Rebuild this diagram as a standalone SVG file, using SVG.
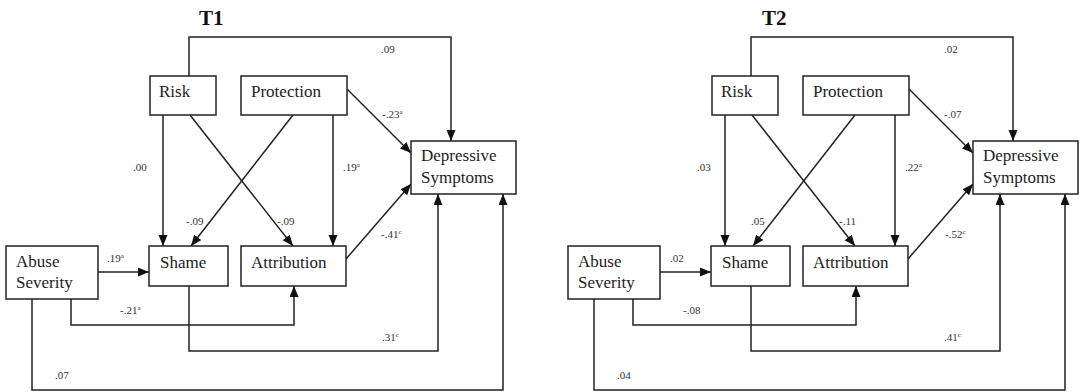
<svg xmlns="http://www.w3.org/2000/svg" width="1080" height="392" viewBox="0 0 1080 392">
<defs>
<style>
rect { fill: #fff; stroke: #222; stroke-width: 1.5; }
.node text { font-family: "Liberation Serif", "Times New Roman", serif; font-size: 17px; fill: #222; }
.title { font-family: "Liberation Serif", "Times New Roman", serif; font-size: 21px; font-weight: bold; fill: #111; }
.conn path { fill: none; stroke: #222; stroke-width: 1.5; marker-end: url(#arr); }
.lbl { font-family: "Liberation Serif", "Times New Roman", serif; font-size: 11px; fill: #333; }
.sup { font-size: 7px; }
</style>
<marker id="arr" markerUnits="userSpaceOnUse" markerWidth="12" markerHeight="10" refX="11" refY="4.5" orient="auto">
<path d="M0,0 L11,4.5 L0,9 z" fill="#111"/>
</marker>
</defs>
<rect x="0" y="0" width="1080" height="392" style="fill:#fff;stroke:none"/>

<g id="panel-t1">
<text class="title" x="199" y="25">T1</text>
<g id="t1-connectors" class="conn">
<path d="M189,76 V37 H451 V141"/>
<path d="M163,115 V246"/>
<path d="M190,115 L293,246"/>
<path d="M293,115 L191,246"/>
<path d="M333,115 V246"/>
<path d="M347,89 L411,153"/>
<path d="M346,259 L411,184"/>
<path d="M98,272 H149"/>
<path d="M71,299 V325 H294 V286"/>
<path d="M189,286 V351 H438 V194"/>
<path d="M32,299 V390 H503 V194"/>
</g>
<g id="t1-risk" class="node"><rect x="150" y="76" width="66" height="39"/><text x="159" y="97">Risk</text></g>
<g id="t1-protection" class="node"><rect x="241" y="76" width="106" height="39"/><text x="251" y="97">Protection</text></g>
<g id="t1-depressive" class="node"><rect x="411" y="141" width="105" height="53"/><text x="421" y="161">Depressive</text><text x="421" y="183">Symptoms</text></g>
<g id="t1-abuse" class="node"><rect x="6" y="246" width="92" height="53"/><text x="16" y="267">Abuse</text><text x="16" y="288">Severity</text></g>
<g id="t1-shame" class="node"><rect x="149" y="246" width="79" height="40"/><text x="160" y="268">Shame</text></g>
<g id="t1-attribution" class="node"><rect x="241" y="246" width="105" height="40"/><text x="251" y="268">Attribution</text></g>
<g id="t1-labels" class="lbl">
<text x="381" y="53">.09</text>
<text x="382" y="118">-.23<tspan class="sup" dy="-4">a</tspan></text>
<text x="133" y="171">.00</text>
<text x="343" y="171">.19<tspan class="sup" dy="-4">a</tspan></text>
<text x="186" y="225">-.09</text>
<text x="277" y="225">-.09</text>
<text x="381" y="238">-.41<tspan class="sup" dy="-4">c</tspan></text>
<text x="107" y="262">.19<tspan class="sup" dy="-4">a</tspan></text>
<text x="120" y="314">-.21<tspan class="sup" dy="-4">a</tspan></text>
<text x="382" y="341">.31<tspan class="sup" dy="-4">c</tspan></text>
<text x="55" y="379">.07</text>
</g>
</g>

<g id="panel-t2" transform="translate(562,0)">
<text class="title" x="200" y="25">T2</text>
<g id="t2-connectors" class="conn">
<path d="M189,76 V37 H451 V141"/>
<path d="M163,115 V246"/>
<path d="M190,115 L293,246"/>
<path d="M293,115 L191,246"/>
<path d="M333,115 V246"/>
<path d="M347,89 L411,153"/>
<path d="M346,259 L411,184"/>
<path d="M98,272 H149"/>
<path d="M71,299 V325 H294 V286"/>
<path d="M189,286 V351 H438 V194"/>
<path d="M32,299 V390 H503 V194"/>
</g>
<g id="t2-risk" class="node"><rect x="150" y="76" width="66" height="39"/><text x="159" y="97">Risk</text></g>
<g id="t2-protection" class="node"><rect x="241" y="76" width="106" height="39"/><text x="251" y="97">Protection</text></g>
<g id="t2-depressive" class="node"><rect x="411" y="141" width="105" height="53"/><text x="421" y="161">Depressive</text><text x="421" y="183">Symptoms</text></g>
<g id="t2-abuse" class="node"><rect x="6" y="246" width="92" height="53"/><text x="16" y="267">Abuse</text><text x="16" y="288">Severity</text></g>
<g id="t2-shame" class="node"><rect x="149" y="246" width="79" height="40"/><text x="160" y="268">Shame</text></g>
<g id="t2-attribution" class="node"><rect x="241" y="246" width="105" height="40"/><text x="251" y="268">Attribution</text></g>
<g id="t2-labels" class="lbl">
<text x="382" y="53">.02</text>
<text x="382" y="118">-.07</text>
<text x="135" y="171">.03</text>
<text x="343" y="171">.22<tspan class="sup" dy="-4">a</tspan></text>
<text x="189" y="225">.05</text>
<text x="277" y="225">-.11</text>
<text x="383" y="238">-.52<tspan class="sup" dy="-4">c</tspan></text>
<text x="108" y="262">.02</text>
<text x="121" y="314">-.08</text>
<text x="382" y="341">.41<tspan class="sup" dy="-4">c</tspan></text>
<text x="55" y="379">.04</text>
</g>
</g>
</svg>
